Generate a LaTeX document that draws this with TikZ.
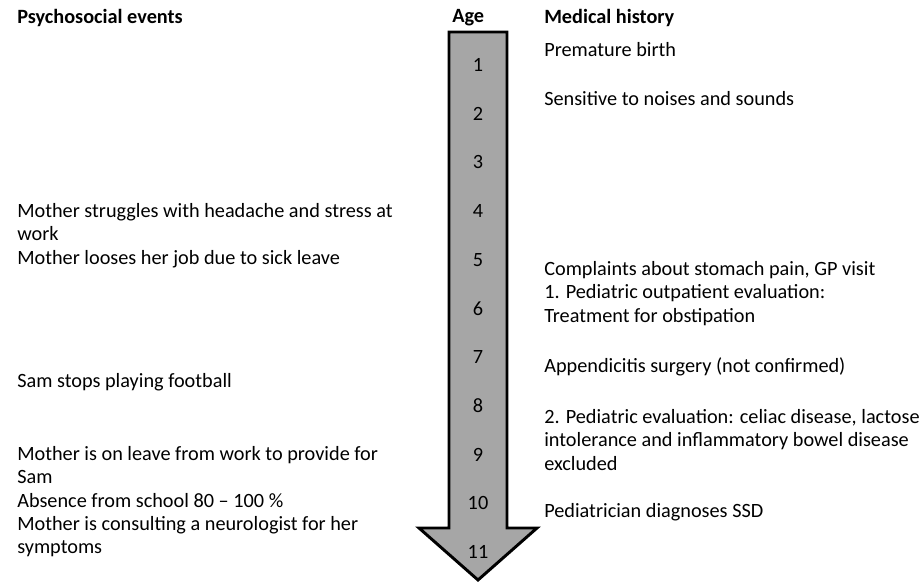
\documentclass[tikz,border=0pt]{standalone}
\usepackage{fontspec}
\setmainfont{Carlito}
\begin{document}
\begin{tikzpicture}[x=0.75pt,y=-0.75pt,
  every node/.style={font=\fontsize{15.2pt}{17.5pt}\selectfont, inner sep=0pt},
  heading/.style={font=\fontsize{15.2pt}{17.5pt}\selectfont\bfseries, anchor=west},
  event/.style={anchor=north west, align=left},
  agenum/.style={anchor=center}]
\useasboundingbox (0,0) rectangle (923,584);

% timeline arrow
\draw[line width=2.2pt, fill={rgb,255:red,166;green,166;blue,166}, line join=miter]
  (449,32) -- (507,32) -- (507,528) -- (537,528) -- (478,580) -- (419,528) -- (449,528) -- cycle;

% column headings
\node[heading] (hpsy) at (17,18) {Psychosocial events};
\node[heading] (hage) at (452,18) {Age};
\node[heading] (hmed) at (544,18) {Medical history};

% ages
\foreach \a in {1,...,11}
  \node[agenum] (age\a) at (478,{65+(\a-1)*48.7}) {\a};

% psychosocial events (y = top of the first line)
\node[event] (p1) at (17,201) {\strut Mother struggles with headache and stress at\\work};
\node[event] (p2) at (17,248) {\strut Mother looses her job due to sick leave};
\node[event] (p3) at (17,371) {\strut Sam stops playing football};
\node[event] (p4) at (17,444) {\strut Mother is on leave from work to provide for\\Sam\\Absence from school 80 -- 100 \%\\Mother is consulting a neurologist for her\\symptoms};

% medical history
\node[event] (m1) at (544,40) {\strut Premature birth};
\node[event] (m2) at (544,89) {\strut Sensitive to noises and sounds};
\node[event] (m3) at (544,259) {\strut Complaints about stomach pain, GP visit\\1. Pediatric outpatient evaluation:\\Treatment for obstipation};
\node[event] (m5) at (544,356) {\strut Appendicitis surgery (not confirmed)};
\node[event] (m6) at (544,407) {\strut 2. Pediatric evaluation: celiac disease, lactose\\intolerance and inflammatory bowel disease\\excluded};
\node[event] (m7) at (544,501) {\strut Pediatrician diagnoses SSD};
\end{tikzpicture}
\end{document}
